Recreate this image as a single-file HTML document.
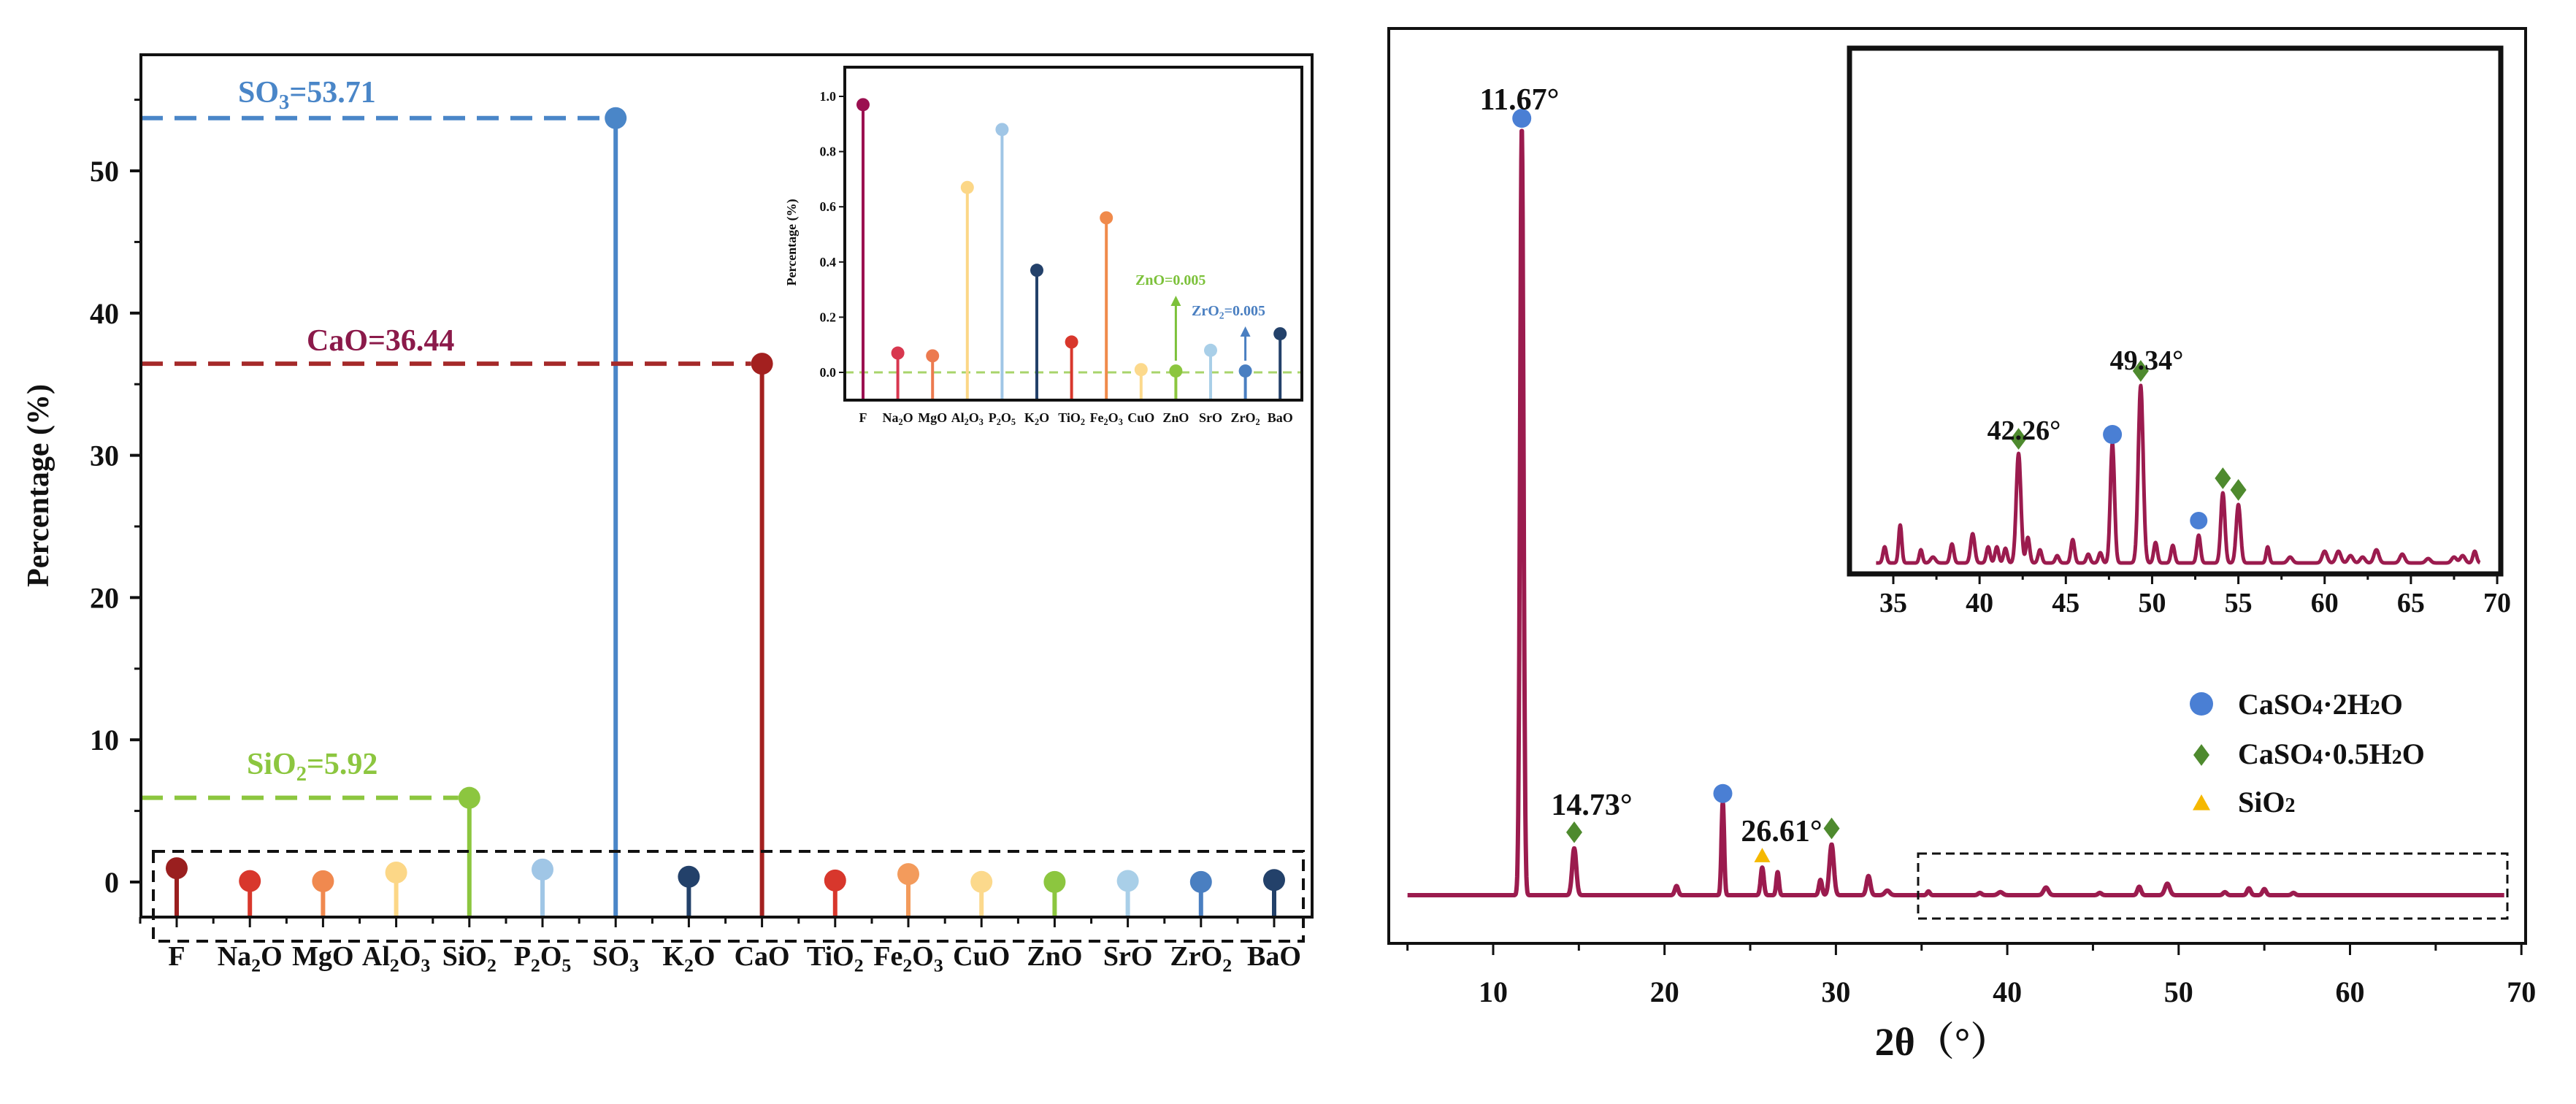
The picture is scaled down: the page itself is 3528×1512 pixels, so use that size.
<!DOCTYPE html>
<html><head><meta charset="utf-8">
<style>
html,body{margin:0;padding:0;background:#fff;}
svg{display:block;font-family:"Liberation Serif","Noto Serif CJK SC",serif;font-weight:bold;}
</style></head>
<body>
<svg id="fig" width="3528" height="1512" viewBox="0 0 3528 1512" xmlns="http://www.w3.org/2000/svg">
  <g id="left"></g>
  <g id="right"></g>
</svg>
<script>
// ---------- Left chart data ----------
const oxideCats = ['F','Na2O','MgO','Al2O3','SiO2','P2O5','SO3','K2O','CaO','TiO2','Fe2O3','CuO','ZnO','SrO','ZrO2','BaO'];
const oxideValues = [0.97,0.07,0.06,0.67,5.92,0.88,53.71,0.37,36.44,0.11,0.56,0.01,0.005,0.08,0.005,0.14];
const oxideColors = ['#9a1f1f','#d8372c','#f0894f','#fcd787','#8cc63f','#a0c6e6','#4a86c8','#23416a','#a3201f','#d8372c','#f39b5c','#fcd98c','#8cc63f','#a9cfe8','#4a7fc1','#23416a'];
const yTicksMain = [0,10,20,30,40,50];
const yTicksInset = [0.0,0.2,0.4,0.6,0.8,1.0];
const insetCats = ['F','Na2O','MgO','Al2O3','P2O5','K2O','TiO2','Fe2O3','CuO','ZnO','SrO','ZrO2','BaO'];
const insetValues = [0.97,0.07,0.06,0.67,0.88,0.37,0.11,0.56,0.01,0.005,0.08,0.005,0.14];
const insetStemColors = ['#9b1050','#d8374f','#ec7a4f','#fcd787','#a0c6e6','#23416a','#d8372c','#f08a4b','#fcd98c','#8cc63f','#a9cfe8','#4a7fc1','#23416a'];

// ---------- Right chart data ----------
const xTicksMain = [10,20,30,40,50,60,70];
const xTicksInset = [35,40,45,50,55,60,65,70];
const mainPeakPos = [11.67,14.73,20.7,23.4,25.7,26.6,29.1,29.75,31.9,33.0,35.4,38.4,39.6,42.26,45.4,47.7,49.34,52.7,54.1,55.0,56.7];
const mainPeakH   = [1000,61,12,121,36,30,20,66,25,6,5,3,4,10,3,11,15,4,9,8,3];
const mainPeakW   = [0.14,0.17,0.14,0.11,0.13,0.11,0.13,0.18,0.16,0.2,0.12,0.15,0.2,0.2,0.15,0.15,0.2,0.15,0.15,0.15,0.15];
const insetPeakPos = [34.5,35.4,36.6,37.3,38.4,39.6,40.5,41.0,41.5,42.26,42.8,43.5,44.5,45.4,46.3,47.0,47.7,49.34,50.2,51.2,52.7,54.1,55.0,56.7,58.0,60.0,60.8,61.5,62.2,63.0,64.5,66.0,67.5,68.0,68.7];
const insetPeakH   = [22,52,18,8,26,40,22,22,20,150,35,18,10,32,12,14,164,243,28,24,38,96,80,22,8,16,16,10,8,18,12,6,8,10,16];
const insetPeakW   = [0.14,0.13,0.13,0.2,0.15,0.17,0.15,0.15,0.15,0.19,0.15,0.15,0.15,0.15,0.15,0.15,0.17,0.2,0.15,0.15,0.15,0.17,0.18,0.13,0.2,0.2,0.2,0.2,0.2,0.2,0.2,0.2,0.2,0.2,0.15];

const NS='http://www.w3.org/2000/svg';
function mk(parent,tag,attrs){const e=document.createElementNS(NS,tag);for(const k in attrs)e.setAttribute(k,attrs[k]);parent.appendChild(e);return e;}
// chemical formula text: digits immediately after a letter (before any '=') become subscripts
function chemText(parent,str,x,y,size,fill,anchor){
  const t=mk(parent,'text',{x:x,y:y,'font-size':size,fill:fill,'text-anchor':anchor||'middle'});
  const eq=str.indexOf('=');
  const formula=eq>=0?str.slice(0,eq):str;
  const rest=eq>=0?str.slice(eq):'';
  const toks=formula.match(/\d+|[^\d]+/g)||[];
  let pendingUp=0;
  const sh=size*0.22;
  toks.forEach(tok=>{
    const ts=document.createElementNS(NS,'tspan');
    if(/^\d+$/.test(tok)){
      ts.setAttribute('font-size',size*0.68);
      ts.setAttribute('dy',sh);
      pendingUp=-sh;
    } else if(pendingUp){ts.setAttribute('dy',pendingUp);pendingUp=0;}
    ts.textContent=tok;t.appendChild(ts);
  });
  if(rest){const ts=document.createElementNS(NS,'tspan');if(pendingUp)ts.setAttribute('dy',pendingUp);ts.textContent=rest;t.appendChild(ts);}
  return t;
}

// ================= LEFT CHART =================
const L=document.getElementById('left');
const xL=i=>242+i*100.2;
const yL=v=>1208-v*19.48;
const axL={x0:193,x1:1797,y0:75,y1:1256};
oxideCats.forEach((c,i)=>{
  const v=oxideValues[i];
  const g=mk(L,'g',{});
  
  
  mk(g,'line',{x1:xL(i),x2:xL(i),y1:axL.y1,y2:yL(v),stroke:oxideColors[i],'stroke-width':6});
  mk(g,'circle',{cx:xL(i),cy:yL(v),r:15,fill:oxideColors[i]});
});
const hl=[{i:6,label:'SO3=53.71',col:'#4a86c8',tcol:'#4a86c8',tx:326,ty:140},
          {i:8,label:'CaO=36.44',col:'#a52a2a',tcol:'#8b1a4a',tx:420,ty:480},
          {i:4,label:'SiO2=5.92',col:'#8cc63f',tcol:'#8cc63f',tx:338,ty:1060}];
hl.forEach(h=>{
  const v=oxideValues[h.i];
  const ln=mk(L,'line',{x1:axL.x0,x2:xL(h.i)-15,y1:yL(v),y2:yL(v),stroke:h.col,'stroke-width':6,'stroke-dasharray':'30 16'});
  
  
  const t=chemText(L,h.label,h.tx,h.ty,42,h.tcol,'start');
  
  
});
const db=mk(L,'rect',{x:210,y:1166,width:1575,height:123,fill:'none',stroke:'#111','stroke-width':4,'stroke-dasharray':'16 10'});


const fr=mk(L,'path',{d:`M${axL.x0},${axL.y0} H${axL.x1} V${axL.y1} H${axL.x0} Z`,fill:'none',stroke:'#111','stroke-width':4});


yTicksMain.forEach(v=>{
  mk(L,'line',{x1:axL.x0-15,x2:axL.x0,y1:yL(v),y2:yL(v),stroke:'#111','stroke-width':4});
  const t=mk(L,'text',{x:axL.x0-30,y:yL(v)+14,'font-size':40,'text-anchor':'end',fill:'#111'});
  t.textContent=v;
  
  
  if(v<50) mk(L,'line',{x1:axL.x0-9,x2:axL.x0,y1:yL(v+5),y2:yL(v+5),stroke:'#111','stroke-width':3});
});
mk(L,'line',{x1:axL.x0-9,x2:axL.x0,y1:yL(55),y2:yL(55),stroke:'#111','stroke-width':3});
const yt=mk(L,'text',{x:0,y:0,'font-size':42,'text-anchor':'middle',fill:'#111',transform:'translate(66,665) rotate(-90)'});
yt.textContent='Percentage (%)';


oxideCats.forEach((c,i)=>{
  mk(L,'line',{x1:xL(i),x2:xL(i),y1:axL.y1,y2:axL.y1+14,stroke:'#111','stroke-width':3});
  mk(L,'line',{x1:xL(i)-50,x2:xL(i)-50,y1:axL.y1,y2:axL.y1+9,stroke:'#111','stroke-width':3});
  const t=chemText(L,c,xL(i),1322,38,'#111','middle');
  
  
});
// ---- inset ----
const I=mk(L,'g',{});


const xI=i=>1182+i*47.6;
const yI=v=>510-v*378;
const inF={x0:1157,x1:1783,y0:92,y1:548};
const gl=mk(I,'line',{x1:inF.x0,x2:inF.x1,y1:yI(0),y2:yI(0),stroke:'#a8d46b','stroke-width':3,'stroke-dasharray':'12 8'});


insetCats.forEach((c,i)=>{
  const v=insetValues[i];
  const g=mk(I,'g',{});
  
  
  mk(g,'line',{x1:xI(i),x2:xI(i),y1:inF.y1,y2:yI(v),stroke:insetStemColors[i],'stroke-width':4});
  mk(g,'circle',{cx:xI(i),cy:yI(v),r:9,fill:insetStemColors[i]});
  const t=chemText(I,c,xI(i),578,18,'#111','middle');
  
  
});
mk(I,'path',{d:`M${inF.x0},${inF.y0} H${inF.x1} V${inF.y1} H${inF.x0} Z`,fill:'none',stroke:'#111','stroke-width':4});
yTicksInset.forEach(v=>{
  mk(I,'line',{x1:inF.x0-8,x2:inF.x0,y1:yI(v),y2:yI(v),stroke:'#111','stroke-width':2});
  const t=mk(I,'text',{x:inF.x0-12,y:yI(v)+6,'font-size':18,'text-anchor':'end',fill:'#111'});
  t.textContent=v.toFixed(1);
  
  
});
const iyt=mk(I,'text',{x:0,y:0,'font-size':18,'text-anchor':'middle',fill:'#111',transform:'translate(1090,332) rotate(-90)'});
iyt.textContent='Percentage (%)';


[[9,'ZnO=0.005','#7cc13a',1555,390,405],[11,'ZrO2=0.005','#4a7fc1',1632,432,447]].forEach(a=>{
  const x=xI(a[0]);
  mk(I,'line',{x1:x,x2:x,y1:yI(0)-16,y2:a[5]+10,stroke:a[2],'stroke-width':3});
  mk(I,'path',{d:`M${x-7},${a[5]+14} L${x},${a[5]} L${x+7},${a[5]+14} Z`,fill:a[2]});
  const t=chemText(I,a[1],a[3],a[4],20,a[2],'start');
  
  
});

// ================= RIGHT CHART =================
const R=document.getElementById('right');
const F={x0:1902,x1:3459,y0:39,y1:1292};
const xR=v=>2045+(v-10)*23.47;
const yR=v=>1226-v*1.052;
const IF={x0:2533,x1:3425,y0:66,y1:786};
const xRI=v=>2593+(v-35)*23.63;
const yRI=v=>771-v;
function spectrum(pos,h,w,x){let s=0;for(let k=0;k<pos.length;k++){const d=(x-pos[k])/w[k];s+=h[k]*Math.exp(-d*d);}return s;}
let d='';
for(let x=5;x<=69.001;x+=0.02){const v=spectrum(mainPeakPos,mainPeakH,mainPeakW,x);d+=(d?'L':'M')+xR(x).toFixed(1)+','+yR(v).toFixed(1);}
const sp=mk(R,'path',{d:d,fill:'none',stroke:'#9b1b4e','stroke-width':6,'stroke-linejoin':'round'});


const rbox=mk(R,'rect',{x:2627,y:1169,width:807,height:89,fill:'none',stroke:'#111','stroke-width':3,'stroke-dasharray':'12 7'});


mk(R,'path',{d:`M${F.x0},${F.y0} H${F.x1} V${F.y1} H${F.x0} Z`,fill:'none',stroke:'#111','stroke-width':4});
for(let v=5;v<=70;v+=5){
  const big=v%10===0;
  mk(R,'line',{x1:xR(v),x2:xR(v),y1:F.y1,y2:F.y1+(big?16:10),stroke:'#111','stroke-width':3});
}
xTicksMain.forEach(v=>{
  const t=mk(R,'text',{x:xR(v),y:1372,'font-size':40,'text-anchor':'middle',fill:'#111'});
  t.textContent=v;
  
  
});
const xt=mk(R,'text',{x:2660,y:1445,'font-size':54,'text-anchor':'middle',fill:'#111'});
xt.textContent='2θ（°）';


function circ(p,x,y,r){const c=mk(p,'circle',{cx:x,cy:y,r:r,fill:'#4a7fd4'});}
function diam(p,x,y,s){const c=mk(p,'path',{d:`M${x},${y-s*1.35} L${x+s},${y} L${x},${y+s*1.35} L${x-s},${y} Z`,fill:'#4e8a2e'});}
function tri(p,x,y,s){const c=mk(p,'path',{d:`M${x},${y-s} L${x+s},${y+s*0.8} L${x-s},${y+s*0.8} Z`,fill:'#f5b800'});}
function lbl(p,s,x,y,size){const t=mk(p,'text',{x:x,y:y,'font-size':size,'text-anchor':'middle',fill:'#111'});t.textContent=s;}
circ(R,xR(11.67),yR(1000)-12,13); lbl(R,'11.67°',2081,150,42);
diam(R,xR(14.73),yR(61)-22,11); lbl(R,'14.73°',2180,1116,42);
circ(R,xR(23.4),yR(121)-12,13);
tri(R,xR(25.7),yR(36)-16,11); lbl(R,'26.61°',2440,1152,42);
diam(R,xR(29.75),yR(66)-22,11);
const lg=mk(R,'g',{});


circ(lg,3015,964,16); diam(lg,3015,1034,11); tri(lg,3015,1100,12);
[['CaSO','4','·2H','2','O',978],['CaSO','4','·0.5H','2','O',1046],['SiO','2','','','',1112]].forEach(r=>{
  const t=mk(lg,'text',{x:3065,y:r[5],'font-size':40,fill:'#111'});
  
  
  [[r[0],40],[r[1],28],[r[2],40],[r[3],28],[r[4],40]].forEach(p=>{if(!p[0])return;const s=document.createElementNS(NS,'tspan');s.setAttribute('font-size',p[1]);s.textContent=p[0];t.appendChild(s);});
});
const RI=mk(R,'g',{});


let di='';
for(let x=34;x<=69.001;x+=0.02){const v=spectrum(insetPeakPos,insetPeakH,insetPeakW,x);di+=(di?'L':'M')+xRI(x).toFixed(1)+','+yRI(v).toFixed(1);}
const isp=mk(RI,'path',{d:di,fill:'none',stroke:'#9b1b4e','stroke-width':5,'stroke-linejoin':'round'});


mk(RI,'path',{d:`M${IF.x0},${IF.y0} H${IF.x1} V${IF.y1} H${IF.x0} Z`,fill:'none',stroke:'#111','stroke-width':7});
for(let v=35;v<=70;v+=2.5){
  mk(RI,'line',{x1:xRI(v),x2:xRI(v),y1:IF.y1,y2:IF.y1+(v%5===0?14:8),stroke:'#111','stroke-width':3});
}
xTicksInset.forEach(v=>{
  const t=mk(RI,'text',{x:xRI(v),y:838,'font-size':38,'text-anchor':'middle',fill:'#111'});
  t.textContent=v;
  
  
});
diam(RI,xRI(42.26),yRI(150)-20,11); lbl(RI,'42.26°',2772,602,38);
circ(RI,xRI(47.7),yRI(164)-12,13);
diam(RI,xRI(49.34),yRI(243)-20,11); lbl(RI,'49.34°',2940,506,38);
circ(RI,xRI(52.7),yRI(38)-20,12);
diam(RI,xRI(54.1),yRI(96)-20,11);
diam(RI,xRI(55.0),yRI(80)-20,11);
</script>
</body></html>
